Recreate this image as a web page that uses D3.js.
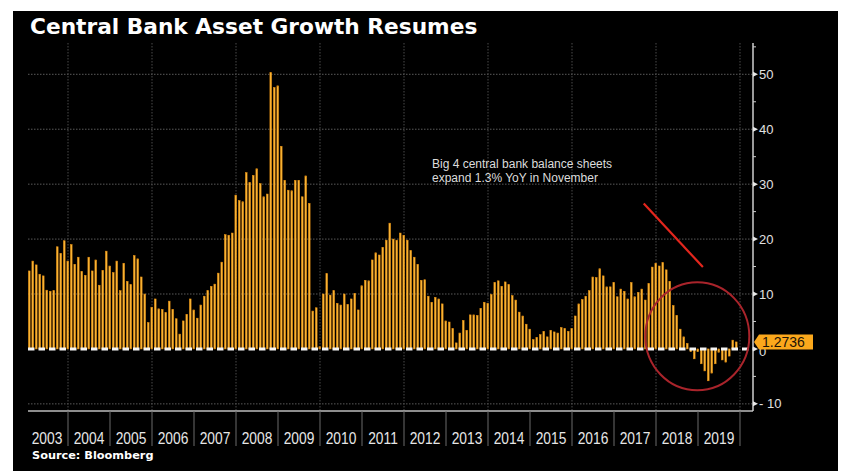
<!DOCTYPE html>
<html>
<head>
<meta charset="utf-8">
<title>Central Bank Asset Growth Resumes</title>
<script src="https://d3js.org/d3.v7.min.js"></script>
<style>
    body { margin: 0; background: #fff; }
    svg { display: block; }
    .year-label { font-family: "Liberation Sans", Arial, sans-serif; font-size: 16.8px; fill: #e6e6e6; }
    .y-label { font-family: "Liberation Sans", Arial, sans-serif; font-size: 13px; fill: #e0e0e0; }
</style>
</head>
<body>
<svg id="chart" width="844" height="476"></svg>
<script>
    // YoY growth of the big 4 central bank balance sheets, monthly from Jan 2003
    const years = d3.range(2003, 2020);
    const yoy2003 = [14.2, 16.0, 15.3, 13.6, 13.3, 10.7, 10.5, 10.6, 18.6, 17.4, 19.7, 16.0];
    const yoy2004 = [19.0, 15.4, 16.7, 14.1, 13.4, 16.7, 14.2, 16.2, 11.6, 14.3, 17.8, 15.1];
    const yoy2005 = [13.9, 16.0, 10.6, 15.6, 12.3, 11.7, 17.0, 16.4, 13.1, 10.0, 4.8, 7.6];
    const yoy2006 = [9.1, 7.3, 7.2, 6.6, 8.7, 7.2, 5.5, 2.7, 5.1, 6.3, 9.1, 7.1];
    const yoy2007 = [5.6, 8.0, 9.6, 10.6, 11.4, 11.8, 13.8, 15.8, 20.8, 20.7, 21.1, 28.0];
    const yoy2008 = [27.0, 26.8, 32.1, 30.3, 31.6, 32.8, 30.1, 27.7, 28.2, 50.3, 47.6, 47.9];
    const yoy2009 = [36.9, 30.7, 28.9, 28.8, 30.7, 30.7, 27.7, 31.5, 26.5, 6.9, 7.5, 0.4];
    const yoy2010 = [10.0, 13.7, 9.8, 10.6, 8.3, 8.0, 10.0, 8.1, 9.1, 10.1, 7.1, 11.5];
    const yoy2011 = [12.5, 12.4, 16.2, 17.5, 17.1, 18.5, 19.8, 22.9, 20.0, 19.8, 21.1, 20.7];
    const yoy2012 = [19.8, 17.9, 16.7, 15.4, 12.5, 12.6, 9.6, 8.5, 9.4, 9.1, 8.2, 5.1];
    const yoy2013 = [4.9, 3.7, 1.1, 2.9, 5.2, 3.4, 6.2, 6.2, 6.1, 7.4, 8.5, 8.3];
    const yoy2014 = [9.9, 12.1, 12.4, 11.4, 12.2, 11.7, 9.7, 8.9, 6.7, 6.0, 4.5, 3.6];
    const yoy2015 = [1.7, 2.1, 2.6, 3.2, 2.2, 3.4, 3.1, 2.9, 3.9, 3.7, 3.2, 3.7];
    const yoy2016 = [6.0, 8.2, 9.0, 9.6, 10.6, 13.1, 13.0, 14.6, 13.3, 11.3, 11.3, 12.1];
    const yoy2017 = [9.5, 10.9, 10.5, 9.1, 12.1, 9.5, 10.3, 10.9, 8.9, 11.9, 14.9, 15.6];
    const yoy2018 = [15.1, 15.7, 14.4, 12.3, 7.9, 6.1, 3.6, 2.2, 1.0, -0.5, -1.8, -0.5];
    const yoy2019 = [-2.7, -4.0, -5.8, -4.4, -2.7, -0.6, -2.0, -2.4, -1.3, 1.6, 1.2736];

    const yoy = [].concat(yoy2003, yoy2004, yoy2005, yoy2006, yoy2007, yoy2008, yoy2009,
        yoy2010, yoy2011, yoy2012, yoy2013, yoy2014, yoy2015, yoy2016, yoy2017, yoy2018, yoy2019);

    const yTicks = [-10, 0, 10, 20, 30, 40, 50];
    const yMinorTicks = [-5, 5, 15, 25, 35, 45, 55];
    const lastValue = yoy[yoy.length - 1];
    const lastLabel = "1.2736";

    const svg = d3.select("#chart");

    // black panel
    svg.append("rect")
        .attr("x", 13).attr("y", 11)
        .attr("width", 825).attr("height", 460)
        .attr("fill", "#000");

    svg.append("text")
        .attr("x", 30).attr("y", 34)
        .attr("fill", "#fff")
        .style("font-family", "DejaVu Sans, sans-serif")
        .style("font-weight", "bold")
        .style("font-size", "21.7px")
        .text("Central Bank Asset Growth Resumes");

    const plotLeft = 28, plotRight = 753, plotTop = 43, plotBottom = 411;

    // month index -> x
    const x = d3.scaleLinear().domain([0, years.length * 12]).range([26, 740]);
    const y = d3.scaleLinear().domain([-11.3, 55.7]).range([plotBottom, plotTop]);

    // horizontal grid
    svg.append("g")
        .selectAll("line")
        .data(yTicks.filter(d => d !== 0))
        .join("line")
        .attr("x1", plotLeft).attr("x2", plotRight)
        .attr("y1", d => y(d)).attr("y2", d => y(d))
        .attr("stroke", "#5a5a5a")
        .attr("stroke-width", 1)
        .attr("stroke-dasharray", "1.5,1.5");

    // vertical grid every two years
    const evenYears = d3.range(2004, 2021, 2);
    svg.append("g")
        .selectAll("line")
        .data(evenYears)
        .join("line")
        .attr("x1", d => x((d - 2003) * 12)).attr("x2", d => x((d - 2003) * 12))
        .attr("y1", plotTop).attr("y2", plotBottom)
        .attr("stroke", "#4a4a4a")
        .attr("stroke-width", 1)
        .attr("stroke-dasharray", "1.5,1.5");

    // bars
    svg.append("g")
        .selectAll("rect")
        .data(yoy)
        .join("rect")
        .attr("x", (d, i) => x(i) + 2.4)
        .attr("width", 1.7)
        .attr("y", d => y(Math.max(0, d)))
        .attr("height", d => Math.abs(y(d) - y(0)))
        .attr("fill", "#fdbb3c")
        .attr("stroke", "#e38d10")
        .attr("stroke-width", 0.55);

    // zero line
    svg.append("line")
        .attr("x1", plotLeft).attr("x2", plotRight)
        .attr("y1", y(0)).attr("y2", y(0))
        .attr("stroke", "#f4f4f4")
        .attr("stroke-width", 3)
        .attr("stroke-dasharray", "6.5,4");

    // bottom axis line + year separators
    svg.append("line")
        .attr("x1", plotLeft).attr("x2", plotRight)
        .attr("y1", plotBottom).attr("y2", plotBottom)
        .attr("stroke", "#bdbdbd")
        .attr("stroke-width", 1.5);

    svg.append("g")
        .selectAll("line")
        .data(d3.range(1, years.length + 1))
        .join("line")
        .attr("x1", d => x(d * 12)).attr("x2", d => x(d * 12))
        .attr("y1", plotBottom).attr("y2", plotBottom + 35)
        .attr("stroke", "#6a6a6a")
        .attr("stroke-width", 1);

    // narrow year labels (squeezed horizontally like the original terminal font)
    svg.append("g")
        .selectAll("text")
        .data(years)
        .join("text")
        .attr("class", "year-label")
        .attr("transform", (d, i) => `translate(${x(i * 12 + 6)},444) scale(0.82,1)`)
        .attr("text-anchor", "middle")
        .text(d => d);

    // right axis
    svg.append("line")
        .attr("x1", plotRight).attr("x2", plotRight)
        .attr("y1", plotTop).attr("y2", plotBottom)
        .attr("stroke", "#cfcfcf")
        .attr("stroke-width", 1.5);

    svg.append("g")
        .selectAll("path")
        .data(yTicks)
        .join("path")
        .attr("d", d => `M${plotRight},${y(d) - 2.5}L${plotRight + 5},${y(d)}L${plotRight},${y(d) + 2.5}Z`)
        .attr("fill", "#e8e8e8");

    svg.append("g")
        .selectAll("line")
        .data(yMinorTicks)
        .join("line")
        .attr("x1", plotRight).attr("x2", plotRight + 3)
        .attr("y1", d => y(d)).attr("y2", d => y(d))
        .attr("stroke", "#cfcfcf")
        .attr("stroke-width", 1);

    svg.append("g")
        .selectAll("text")
        .data(yTicks)
        .join("text")
        .attr("class", "y-label")
        .attr("x", plotRight + 6)
        .attr("y", d => y(d) + (d === 0 ? 7 : 4.5))
        .text(d => d < 0 ? "- " + Math.abs(d) : d);

    // last value tag
    const ty = y(lastValue);
    svg.append("path")
        .attr("d", `M${plotRight + 1},${ty}L${plotRight + 6},${ty - 7.5}L${plotRight + 60},${ty - 7.5}L${plotRight + 60},${ty + 7.5}L${plotRight + 6},${ty + 7.5}Z`)
        .attr("fill", "#fba81c");
    svg.append("text")
        .attr("x", plotRight + 9)
        .attr("y", ty + 5)
        .attr("fill", "#1b1306")
        .style("font-family", "Liberation Sans, Arial, sans-serif")
        .style("font-size", "14px")
        .text(lastLabel);

    // annotation
    const note = svg.append("text")
        .attr("fill", "#dcdcdc")
        .style("font-family", "Liberation Sans, Arial, sans-serif")
        .style("font-size", "12px");
    note.append("tspan").attr("x", 432).attr("y", 168).text("Big 4 central bank balance sheets");
    note.append("tspan").attr("x", 432).attr("y", 182).text("expand 1.3% YoY in November");

    svg.append("line")
        .attr("x1", x(176.5)).attr("y1", y(26.5))
        .attr("x2", x(193.4)).attr("y2", y(14.9))
        .attr("stroke", "#e3261d")
        .attr("stroke-width", 2.2);

    svg.append("ellipse")
        .attr("cx", x(191.8)).attr("cy", y(2.3))
        .attr("rx", 52).attr("ry", 54)
        .attr("fill", "none")
        .attr("stroke", "#a9242b")
        .attr("stroke-width", 2);

    svg.append("text")
        .attr("x", 32).attr("y", 459)
        .attr("fill", "#fff")
        .style("font-family", "DejaVu Sans, sans-serif")
        .style("font-weight", "bold")
        .style("font-size", "11.3px")
        .text("Source: Bloomberg");
</script>
</body>
</html>
